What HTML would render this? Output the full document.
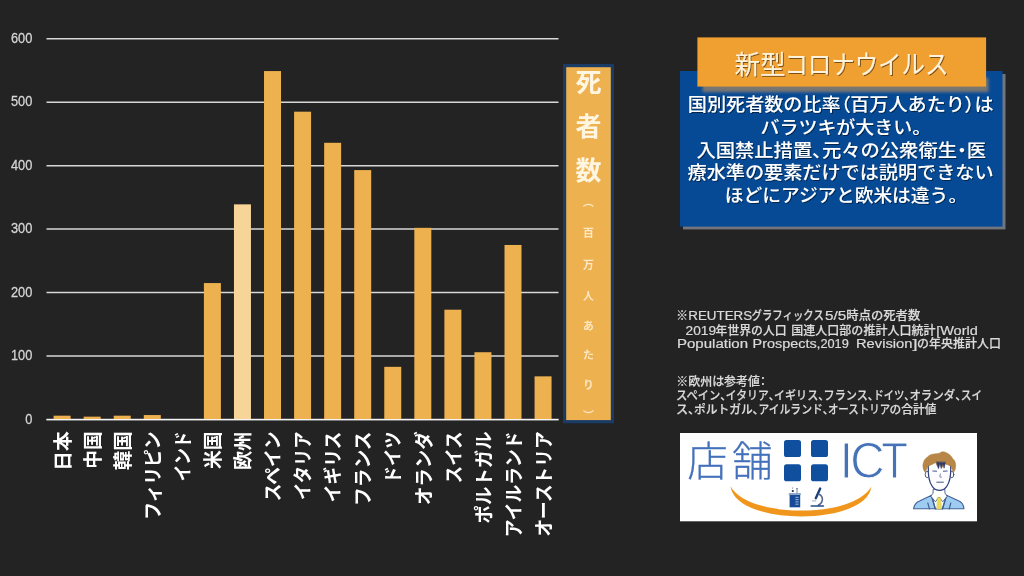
<!DOCTYPE html>
<html lang="ja">
<head>
<meta charset="utf-8">
<title>新型コロナウイルス 国別死者数の比率</title>
<style>
html,body{margin:0;padding:0;background:#232323;}
body{width:1024px;height:576px;overflow:hidden;font-family:"Liberation Sans", "Noto Sans CJK JP", sans-serif;}
svg{display:block;}
text{font-family:"Liberation Sans", "Noto Sans CJK JP", sans-serif;}
.p{font-feature-settings:"palt";}
</style>
</head>
<body>
<svg width="1024" height="576" viewBox="0 0 1024 576">
<defs>
<filter id="sh" x="-10%" y="-20%" width="125%" height="150%">
<feGaussianBlur in="SourceAlpha" stdDeviation="2"/>
<feOffset dx="2.5" dy="3"/>
<feComponentTransfer><feFuncA type="linear" slope="0.55"/></feComponentTransfer>
<feMerge><feMergeNode/><feMergeNode in="SourceGraphic"/></feMerge>
</filter>
<filter id="tsh" x="-5%" y="-20%" width="110%" height="150%">
<feGaussianBlur in="SourceAlpha" stdDeviation="0.7"/>
<feOffset dx="0.8" dy="0.8"/>
<feComponentTransfer><feFuncA type="linear" slope="0.5"/></feComponentTransfer>
<feMerge><feMergeNode/><feMergeNode in="SourceGraphic"/></feMerge>
</filter>
<filter id="b1" x="-5%" y="-5%" width="110%" height="110%"><feGaussianBlur stdDeviation="0.7"/></filter>
<filter id="b2" x="-5%" y="-40%" width="110%" height="180%"><feGaussianBlur stdDeviation="1.5"/></filter>
</defs>
<rect x="0" y="0" width="1024" height="576" fill="#232323"/>

<g stroke="#d8d8d8" stroke-width="1.5">
<line x1="46.5" y1="419.50" x2="558.5" y2="419.50"/>
<line x1="46.5" y1="356.03" x2="558.5" y2="356.03"/>
<line x1="46.5" y1="292.57" x2="558.5" y2="292.57"/>
<line x1="46.5" y1="229.10" x2="558.5" y2="229.10"/>
<line x1="46.5" y1="165.63" x2="558.5" y2="165.63"/>
<line x1="46.5" y1="102.17" x2="558.5" y2="102.17"/>
<line x1="46.5" y1="38.70" x2="558.5" y2="38.70"/>
</g>
<g fill="#d6d6d6" stroke="#d6d6d6" stroke-width="0.25" font-size="13.4" text-anchor="end">
<text transform="translate(32.3,423.80) scale(0.955,1.04)">0</text>
<text transform="translate(32.3,360.33) scale(0.955,1.04)">100</text>
<text transform="translate(32.3,296.87) scale(0.955,1.04)">200</text>
<text transform="translate(32.3,233.40) scale(0.955,1.04)">300</text>
<text transform="translate(32.3,169.93) scale(0.955,1.04)">400</text>
<text transform="translate(32.3,106.47) scale(0.955,1.04)">500</text>
<text transform="translate(32.3,43.00) scale(0.955,1.04)">600</text>
</g>
<g fill="#edb14f">
<rect x="53.60" y="415.69" width="17" height="3.81"/>
<rect x="83.66" y="416.64" width="17" height="2.86"/>
<rect x="113.72" y="415.69" width="17" height="3.81"/>
<rect x="143.78" y="415.06" width="17" height="4.44"/>
<rect x="173.84" y="419.18" width="17" height="0.32"/>
<rect x="203.90" y="283.05" width="17" height="136.45"/>
<rect x="233.96" y="204.35" width="17" height="215.15" fill="#f7d497"/>
<rect x="264.02" y="71.07" width="17" height="348.43"/>
<rect x="294.08" y="111.69" width="17" height="307.81"/>
<rect x="324.14" y="142.79" width="17" height="276.71"/>
<rect x="354.20" y="170.08" width="17" height="249.42"/>
<rect x="384.26" y="366.82" width="17" height="52.68"/>
<rect x="414.32" y="227.83" width="17" height="191.67"/>
<rect x="444.38" y="309.70" width="17" height="109.80"/>
<rect x="474.44" y="352.23" width="17" height="67.27"/>
<rect x="504.50" y="244.97" width="17" height="174.53"/>
<rect x="534.56" y="376.34" width="17" height="43.16"/>
</g>
<line x1="46.5" y1="419.6" x2="558.5" y2="419.6" stroke="#f4f4f4" stroke-width="1.1"/>
<g fill="#ffffff" font-size="19" font-weight="700" text-anchor="end">
<text transform="translate(69.80,431.4) rotate(-90)" textLength="39.4" lengthAdjust="spacingAndGlyphs">日本</text>
<text transform="translate(99.86,431.4) rotate(-90)" textLength="37.4" lengthAdjust="spacingAndGlyphs">中国</text>
<text transform="translate(129.92,431.4) rotate(-90)" textLength="38.9" lengthAdjust="spacingAndGlyphs">韓国</text>
<text transform="translate(159.98,431.4) rotate(-90)" textLength="88.4" lengthAdjust="spacingAndGlyphs">フィリピン</text>
<text transform="translate(190.04,431.4) rotate(-90)" textLength="49.9" lengthAdjust="spacingAndGlyphs">インド</text>
<text transform="translate(220.10,431.4) rotate(-90)" textLength="37.6" lengthAdjust="spacingAndGlyphs">米国</text>
<text transform="translate(250.16,431.4) rotate(-90)" textLength="38.6" lengthAdjust="spacingAndGlyphs">欧州</text>
<text transform="translate(280.22,431.4) rotate(-90)" textLength="69.9" lengthAdjust="spacingAndGlyphs">スペイン</text>
<text transform="translate(310.28,431.4) rotate(-90)" textLength="68.6" lengthAdjust="spacingAndGlyphs">イタリア</text>
<text transform="translate(340.34,431.4) rotate(-90)" textLength="70.9" lengthAdjust="spacingAndGlyphs">イギリス</text>
<text transform="translate(370.40,431.4) rotate(-90)" textLength="74.7" lengthAdjust="spacingAndGlyphs">フランス</text>
<text transform="translate(400.46,431.4) rotate(-90)" textLength="52.0" lengthAdjust="spacingAndGlyphs">ドイツ</text>
<text transform="translate(430.52,431.4) rotate(-90)" textLength="73.7" lengthAdjust="spacingAndGlyphs">オランダ</text>
<text transform="translate(460.58,431.4) rotate(-90)" textLength="51.8" lengthAdjust="spacingAndGlyphs">スイス</text>
<text transform="translate(490.64,431.4) rotate(-90)" textLength="92.0" lengthAdjust="spacingAndGlyphs">ポルトガル</text>
<text transform="translate(520.70,431.4) rotate(-90)" textLength="105.8" lengthAdjust="spacingAndGlyphs">アイルランド</text>
<text transform="translate(550.76,431.4) rotate(-90)" textLength="105.2" lengthAdjust="spacingAndGlyphs">オーストリア</text>
</g>
<rect x="564.6" y="65.6" width="47.8" height="356.1" fill="#edb14f" stroke="#193b65" stroke-width="3.2"/>
<g fill="#fff6e2" font-size="26" font-weight="700" text-anchor="middle">
<text x="588.5" y="92.0">死</text>
<text x="588.5" y="135.6">者</text>
<text x="588.5" y="179.6">数</text>
</g>
<g fill="#fce8c4" font-size="10.8" font-weight="700" text-anchor="middle">
<text x="588.5" y="205.9">︵</text>
<text x="588.5" y="237.4">百</text>
<text x="588.5" y="268.6">万</text>
<text x="588.5" y="299.9">人</text>
<text x="588.5" y="329.7">あ</text>
<text x="588.5" y="359.4">た</text>
<text x="588.5" y="388.9">り</text>
<text x="588.5" y="419.9">︶</text>
</g>
<rect x="683" y="74" width="322.5" height="155.4" fill="#70747e" filter="url(#b1)"/>
<rect x="680" y="71" width="322.5" height="155.6" fill="#064a96"/>
<rect x="702.5" y="78" width="286" height="14.2" fill="#80786f" opacity="0.95" filter="url(#b2)"/>
<rect x="697.4" y="37.4" width="288.7" height="49.2" fill="#f0a030"/>
<g font-size="26" fill="#fef3dc" filter="url(#tsh)">
<text x="734.4" y="73.6" textLength="51" lengthAdjust="spacingAndGlyphs">新型</text>
<text x="784.4" y="73.6" textLength="164" lengthAdjust="spacingAndGlyphs">コロナウイルス</text>
</g>
<g fill="#ffffff" font-size="18" font-weight="500" filter="url(#tsh)">
<text x="687.8" y="111.0" textLength="305.8" lengthAdjust="spacingAndGlyphs">国別死者数の比率<tspan class="p">（</tspan>百万人あたり<tspan class="p">）</tspan>は</text>
<text x="760.5999999999999" y="133.5" textLength="161.0" lengthAdjust="spacingAndGlyphs">バラツキが大きい<tspan class="p">。</tspan></text>
<text x="696.4000000000001" y="156.9" textLength="289.6" lengthAdjust="spacingAndGlyphs">入国禁止措置<tspan class="p">、</tspan>元々の公衆衛生<tspan class="p">・</tspan>医</text>
<text x="687.5999999999999" y="179.4" textLength="306.0" lengthAdjust="spacingAndGlyphs">療水準の要素だけでは説明できない</text>
<text x="724.8" y="202.2" textLength="232.8" lengthAdjust="spacingAndGlyphs">ほどにアジアと欧米は違う<tspan class="p">。</tspan></text>
</g>
<g fill="#dadada" stroke="#dadada" stroke-width="0.2" font-size="12" font-weight="500">
<text x="676.3" y="320.3" textLength="11.7" lengthAdjust="spacingAndGlyphs">※</text>
<text x="688.3" y="320.3" textLength="63.9" lengthAdjust="spacingAndGlyphs">REUTERS</text>
<text x="751.6" y="320.3" textLength="72.2" lengthAdjust="spacingAndGlyphs">グラフィックス</text>
<text x="825.0" y="320.3" textLength="21.2" lengthAdjust="spacingAndGlyphs">5/5</text>
<text x="846.3" y="320.3" textLength="74.0" lengthAdjust="spacingAndGlyphs">時点の死者数</text>
<text x="685.6" y="334.8" textLength="30.4" lengthAdjust="spacingAndGlyphs">2019</text>
<text x="715.6" y="334.8" textLength="71.0" lengthAdjust="spacingAndGlyphs">年世界の人口</text>
<text x="791.2" y="334.8" textLength="144.4" lengthAdjust="spacingAndGlyphs">国連人口部の推計人口統計</text>
<text x="936.2" y="334.8" textLength="41.6" lengthAdjust="spacingAndGlyphs">[World</text>
<text x="677.0" y="347.9" textLength="71.0" lengthAdjust="spacingAndGlyphs">Population</text>
<text x="752.6" y="347.9" textLength="68.0" lengthAdjust="spacingAndGlyphs">Prospects,</text>
<text x="820.4" y="347.9" textLength="28.4" lengthAdjust="spacingAndGlyphs">2019</text>
<text x="856.0" y="347.9" textLength="56.4" lengthAdjust="spacingAndGlyphs">Revision</text>
<text x="912.6" y="347.9" textLength="5.0" lengthAdjust="spacingAndGlyphs">]</text>
<text x="917.0" y="347.9" textLength="84.0" lengthAdjust="spacingAndGlyphs">の年央推計人口</text>
<text x="676.3" y="386.3" textLength="89.7" lengthAdjust="spacingAndGlyphs">※欧州は参考値<tspan class="p">：</tspan></text>
<text x="676.0" y="400.1" textLength="50.0" lengthAdjust="spacingAndGlyphs">スペイン<tspan class="p">、</tspan></text>
<text x="725.8" y="400.1" textLength="48.4" lengthAdjust="spacingAndGlyphs">イタリア<tspan class="p">、</tspan></text>
<text x="774.0" y="400.1" textLength="49.8" lengthAdjust="spacingAndGlyphs">イギリス<tspan class="p">、</tspan></text>
<text x="823.6" y="400.1" textLength="49.8" lengthAdjust="spacingAndGlyphs">フランス<tspan class="p">、</tspan></text>
<text x="873.4" y="400.1" textLength="36.2" lengthAdjust="spacingAndGlyphs">ドイツ<tspan class="p">、</tspan></text>
<text x="909.4" y="400.1" textLength="51.6" lengthAdjust="spacingAndGlyphs">オランダ<tspan class="p">、</tspan></text>
<text x="960.8" y="400.1" textLength="21.4" lengthAdjust="spacingAndGlyphs">スイ</text>
<text x="676.0" y="413.6" textLength="18.2" lengthAdjust="spacingAndGlyphs">ス<tspan class="p">、</tspan></text>
<text x="694.0" y="413.6" textLength="64.6" lengthAdjust="spacingAndGlyphs">ポルトガル<tspan class="p">、</tspan></text>
<text x="758.4" y="413.6" textLength="69.8" lengthAdjust="spacingAndGlyphs">アイルランド<tspan class="p">、</tspan></text>
<text x="827.9" y="413.6" textLength="62.3" lengthAdjust="spacingAndGlyphs">オーストリア</text>
<text x="889.6" y="413.6" textLength="47.0" lengthAdjust="spacingAndGlyphs">の合計値</text>
</g>
<rect x="680" y="433" width="297" height="88.3" fill="#ffffff"/>
<g id="logo">
<g fill="#4471ba" font-weight="300" font-size="39" stroke="#4471ba" stroke-width="0.25">
<text transform="translate(687.2,476.3) scale(1.04,1.04)"><tspan x="0">店</tspan><tspan x="43.2">舗</tspan></text>
</g>
<g fill="#0f4f9e">
<rect x="784" y="440" width="17" height="17" rx="2.6"/>
<rect x="811" y="440" width="17" height="17" rx="2.6"/>
<rect x="784" y="464.3" width="17" height="17" rx="2.6"/>
<rect x="811" y="464.3" width="17" height="17" rx="2.6"/>
</g>
<g font-size="47.5" fill="#4673b8" stroke="#ffffff" stroke-width="0.9">
<text transform="translate(839.8,477.8) scale(1,1.05)">I</text>
<text transform="translate(850.2,477.8) scale(1,1.05)">C</text>
<text transform="translate(881.2,477.8) scale(0.92,1.05)">T</text>
</g>
<path d="M730.6 486.2 C735 526.5 867 526.5 871.3 486.4 C854 518.7 748 518.7 730.6 486.2 Z" fill="#f0961c"/>
<!-- beaker -->
<g>
<rect x="788.6" y="493" width="12.4" height="2.2" rx="1" fill="#8fa6c8"/>
<rect x="789.6" y="495" width="10.6" height="12.3" fill="#184a96"/>
<g stroke="#a9c8ee" stroke-width="0.9">
<line x1="795.4" y1="497.3" x2="798.6" y2="497.3"/>
<line x1="795.4" y1="499.6" x2="798.6" y2="499.6"/>
<line x1="795.4" y1="501.9" x2="798.6" y2="501.9"/>
<line x1="795.4" y1="504.2" x2="798.6" y2="504.2"/>
</g>
<circle cx="792.8" cy="491" r="1.1" fill="#1d2a44"/>
<line x1="792.6" y1="487.3" x2="792.6" y2="489" stroke="#8b97ab" stroke-width="0.8"/>
<path d="M796 488.6 h2 M797 488.6 V493" stroke="#6d7d97" stroke-width="0.9" fill="none"/>
</g>
<!-- microscope -->
<g fill="none" stroke-linecap="round">
<line x1="820.2" y1="488.6" x2="815.8" y2="498.2" stroke="#1c3f78" stroke-width="2.4"/>
<path d="M819 494.3 C823.6 496.5 823.6 502.5 818.3 505.3" stroke="#56668f" stroke-width="1.6"/>
<line x1="811.2" y1="505.9" x2="823.4" y2="505.9" stroke="#264a84" stroke-width="1.5"/>
<line x1="812.6" y1="500.9" x2="815.6" y2="500.9" stroke="#aebfd0" stroke-width="1.4"/>
</g>
<!-- person -->
<g id="person" stroke-linejoin="round" stroke-linecap="round">
<path d="M913.6 508.8 C914.2 504.5 916 502.3 920 500.8 L931.6 495.2 L935.5 509 L942.2 509 L946.5 495.2 L958.5 500.8 C962.3 502.3 963.6 504.6 964 508.8 Z" fill="#9ecbf0" stroke="#41639a" stroke-width="1.1"/>
<path d="M931.3 495.5 L935.2 509 M946.7 495.5 L942.6 509 M927.8 503 L929.5 509 M950.8 503 L949.2 509" fill="none" stroke="#3d5c92" stroke-width="1.1"/>
<path d="M933.2 489.5 L933 493.2 L930.8 496.2 L935.4 501.8 L939 497 L942.8 501.8 L947.2 496.2 L945 493.2 L944.8 489.5 Z" fill="#ffffff" stroke="#3e568f" stroke-width="0.9"/>
<path d="M937.6 497.4 L940.6 497.4 L941.6 508.9 L936.8 508.9 Z" fill="#e9da5c" stroke="#cfbf48" stroke-width="0.4"/>
<ellipse cx="927.2" cy="474.5" rx="2" ry="3.2" fill="#ffffff" stroke="#33447c" stroke-width="0.9"/>
<ellipse cx="951.8" cy="474.5" rx="2" ry="3.2" fill="#ffffff" stroke="#33447c" stroke-width="0.9"/>
<path d="M928.3 466 C927.9 476 928.9 482 932.4 486.6 C936 491.6 943 491.6 946.6 486.6 C950.1 482 951.1 476 950.7 466 C947 459.5 932 459.5 928.3 466 Z" fill="#fdfdff" stroke="#2f3f78" stroke-width="1.2"/>
<path d="M925.4 472.6 C921.6 468.5 922 460.5 927.5 457 C931 452.6 938.4 454.6 941.2 452.2 C944 450.6 950.6 454.2 952.4 458.2 C956.8 461.4 956.6 468.8 953.4 472.6 C952.6 470 951.6 467.6 950.3 465.4 C947.6 465.2 945.2 464.2 943.4 462.6 C943 464.4 942.8 466 943.2 467.6 C941.6 466.4 940.2 464.6 939.6 462.6 C939 464.6 938.8 466.2 939 467.8 C937.2 466.4 936.2 464.6 936 462.4 C933.2 464 930.4 465.2 928.8 465.6 C927.2 467.8 926 470 925.4 472.6 Z" fill="#b88748" stroke="#a87a3c" stroke-width="0.5"/>
<path d="M936.6 462.2 L938.4 468.8 L939.8 463.6 L941.2 468.6 L942.6 463.4 L944.2 468.2 L945.4 462.4 Z" fill="#2b396c" stroke="#2b396c" stroke-width="0.5"/>
<path d="M932.8 471 L936.6 471.2 M943.4 471.2 L947.2 471" stroke="#33447c" stroke-width="0.9" fill="none"/>
<path d="M940.4 474 L939.8 477 L941.4 477.2" stroke="#4a5a8c" stroke-width="0.7" fill="none"/>
<path d="M936.8 482.2 L943.4 482.2" stroke="#33447c" stroke-width="0.9" fill="none"/>
</g>
</g>

</svg>
</body>
</html>
